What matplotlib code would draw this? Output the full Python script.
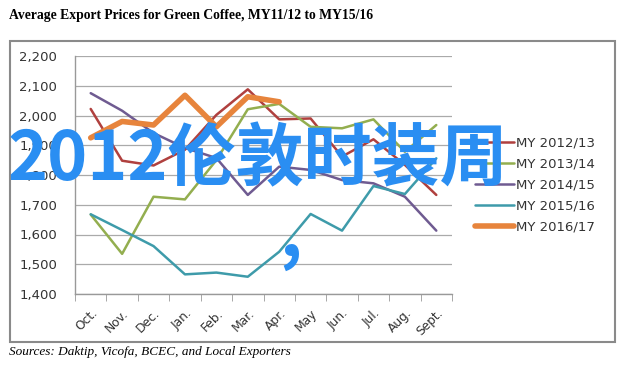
import numpy as np
import matplotlib.pyplot as plt
from matplotlib.patches import Rectangle

months = ['Oct.', 'Nov.', 'Dec.', 'Jan.', 'Feb.', 'Mar.', 'Apr.', 'May', 'Jun.', 'Jul.', 'Aug.', 'Sept.']

my_2012_13 = [2022, 1848, 1832, 1885, 2002, 2088, 1987, 1990, 1862, 1920, 1834, 1733]
my_2013_14 = [1667, 1535, 1727, 1718, 1850, 2021, 2039, 1962, 1957, 1987, 1878, 1968]
my_2014_15 = [2075, 2016, 1941, 1891, 1857, 1733, 1828, 1817, 1783, 1772, 1727, 1613]
my_2015_16 = [1668, 1615, 1561, 1466, 1472, 1458, 1542, 1669, 1613, 1763, 1736, 1856]
my_2016_17 = [1925, 1980, 1968, 2068, 1962, 2063, 2046]

series = [
    ('MY 2012/13', my_2012_13, '#B0403E', 1.8),
    ('MY 2013/14', my_2013_14, '#93AE4F', 1.8),
    ('MY 2014/15', my_2014_15, '#6F5B91', 1.8),
    ('MY 2015/16', my_2015_16, '#3E9BAA', 1.8),
    ('MY 2016/17', my_2016_17, '#E7843C', 4.0),
]

W, H = 628, 372
fig = plt.figure(figsize=(W / 100, H / 100), dpi=100)

# plot area in pixels
left, right, top, bottom = 75, 452, 56, 294
ax = fig.add_axes([left / W, 1 - bottom / H, (right - left) / W, (bottom - top) / H])

x = np.arange(len(months))
handles = []
for name, vals, col, lw in series:
    h, = ax.plot(x[:len(vals)], vals, color=col, lw=lw, label=name, solid_capstyle='round')
    handles.append(h)

ax.set_xlim(-0.5, 11.5)
ax.set_ylim(1400, 2200)
ax.set_yticks(range(1400, 2201, 100))
ax.set_yticklabels(['{:,}'.format(v) for v in range(1400, 2201, 100)], fontsize=9.5, color='#333333')
ax.yaxis.grid(True, color='#AAAAAA', lw=0.9)
ax.set_axisbelow(True)
ax.tick_params(axis='y', length=0, pad=13)

ax.set_xticks(x)
ax.set_xticklabels(months, rotation=45, ha='right', rotation_mode='anchor', fontsize=8.8, color='#333333')
ax.tick_params(axis='x', length=0, pad=9)
ax.set_xticks(np.arange(-0.5, 12, 1), minor=True)
ax.tick_params(axis='x', which='minor', length=5, color='#999999', direction='out')

for s in ['top', 'right']:
    ax.spines[s].set_visible(False)
for s in ['left', 'bottom']:
    ax.spines[s].set_color('#999999')
    ax.spines[s].set_linewidth(1.0)

ax.legend(handles=handles, loc='upper left', bbox_to_anchor=(470 / W, 1 - 131 / H),
          bbox_transform=fig.transFigure, frameon=False, fontsize=9.5, handlelength=2.9,
          handletextpad=0.15, labelspacing=0.62, borderaxespad=0, labelcolor='#333333')

# outer frame
fig.add_artist(Rectangle((10 / W, 1 - 342 / H), 605 / W, 301 / H, transform=fig.transFigure,
                         fill=False, edgecolor='#8A8A8A', lw=1.5))

fig.text(9 / W, 1 - 16 / H, 'Average Export Prices for Green Coffee, MY11/12 to MY15/16',
         family='Liberation Serif', weight='bold', fontsize=9.8, va='center', ha='left')
fig.text(9 / W, 1 - 352 / H, 'Sources: Daktip, Vicofa, BCEC, and Local Exporters',
         family='Liberation Serif', style='italic', fontsize=9.5, va='center', ha='left')

# overlaid watermark text
fig.text(8 / W, 1 - 161 / H, '2012伦敦时装周', family=['Noto Sans CJK SC', 'DejaVu Sans'],
         weight='bold', fontsize=49, color='#2A8EF2', va='center', ha='left')
fig.text(279 / W, 1 - 236 / H, ',', family=['Noto Sans CJK SC', 'DejaVu Sans'],
         weight='bold', fontsize=50, color='#2A8EF2', va='center', ha='left')

fig.savefig('out.png', dpi=100)
